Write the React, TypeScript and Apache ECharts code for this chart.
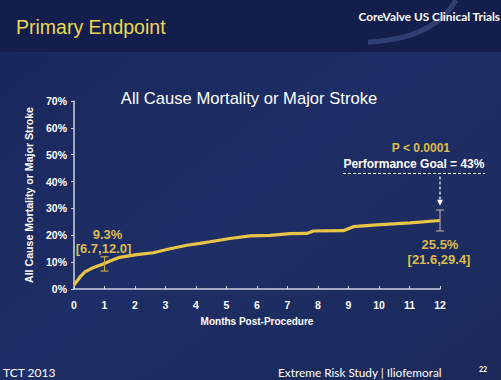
import React, { useEffect, useRef } from "react";
import * as echarts from "echarts";

// Kaplan-Meier estimate (months, %)
const months = [0, 0.1, 0.2, 0.36, 0.6, 0.96, 1.2, 1.5, 2.05, 2.6, 3.15, 3.7, 4.13, 4.46, 5.11, 5.77, 6.43, 7.08, 7.63, 7.85, 8.83, 9.16, 9.92, 11.02, 12];
const rates = [1.5, 3.0, 4.5, 6.4, 7.8, 9.3, 10.5, 11.8, 12.8, 13.5, 15.0, 16.3, 17.0, 17.6, 18.8, 19.8, 20.0, 20.6, 20.7, 21.6, 21.7, 23.2, 23.9, 24.6, 25.5];

// confidence intervals
const ciMonths = [1, 12];
const ciPoint = [9.3, 25.5];
const ciLow = [6.7, 21.6];
const ciHigh = [12.0, 29.4];
const ciLabels = ["9.3%", "25.5%"];
const ciRangeLabels = ["[6.7,12.0]", "[21.6,29.4]"];

// performance goal
const goalValue = 43;
const goalFrom = 8.82;
const goalTo = 13.47;
const goalArrowMonth = 12;
const goalArrowEnd = 31;
const goalLabel = "Performance Goal = 43%";
const pLabel = "P < 0.0001";

const xTicks = [0, 12, 1];
const yTicks = [0, 70, 10];

const GOLD = "#e8c547";
const GOLD_TEXT = "#ddbb4c";
const ARIAL = "'Liberation Sans', Arial, sans-serif";

export default function App() {
  const ref = useRef<HTMLDivElement>(null);
  useEffect(() => {
    if (!ref.current) return;
    const chart = echarts.init(ref.current, null, { renderer: "svg" });
    const lineData = months.map((m, i) => [m, rates[i]]);
    const ciData = ciMonths.map((m, i) => [m, ciLow[i], ciHigh[i], ciPoint[i]]);
    chart.setOption({
      animation: false,
      backgroundColor: {
        type: "linear", x: 0, y: 0, x2: 1, y2: 1,
        colorStops: [
          { offset: 0, color: "#18265b" },
          { offset: 0.5, color: "#1e2e66" },
          { offset: 1, color: "#1b2959" },
        ],
      },
      graphic: [
        { type: "rect", shape: { x: 0, y: 0, width: 501, height: 52 }, style: { fill: "#141e4c" }, z: -1 },
        { type: "bezierCurve", shape: { x1: 368, y1: 42, cpx1: 420, cpy1: 40, cpx2: 445, cpy2: 20, x2: 456, y2: 0 }, style: { stroke: "rgba(120,140,200,0.3)", lineWidth: 5, fill: "none" }, z: -1 },
        { type: "text", x: 16, y: 27, style: { text: "Primary Endpoint", fill: "#ecd850", font: "19.5px " + ARIAL, verticalAlign: "middle" } },
        { type: "text", x: 500, y: 16, style: { text: "CoreValve US Clinical Trials", fill: "#ffffff", font: "bold 11.8px Lato, sans-serif", align: "right", verticalAlign: "middle" } },
        { type: "text", x: 249, y: 98, style: { text: "All Cause Mortality or Major Stroke", fill: "#ffffff", font: "16.6px " + ARIAL, align: "center", verticalAlign: "middle" } },
        { type: "text", x: 3, y: 372, style: { text: "TCT 2013", fill: "#ffffff", font: "12px Lato, sans-serif", verticalAlign: "middle" } },
        { type: "text", x: 278, y: 372, style: { text: "Extreme Risk Study | Iliofemoral", fill: "#ffffff", font: "11.8px Lato, sans-serif", verticalAlign: "middle" } },
        { type: "text", x: 479, y: 369, style: { text: "22", fill: "#ffffff", font: "bold 7px Lato, sans-serif", verticalAlign: "middle" } },
      ],
      grid: { left: 74, right: 61, top: 101, bottom: 91 },
      xAxis: {
        type: "value", min: xTicks[0], max: xTicks[1], interval: xTicks[2],
        name: "Months Post-Procedure", nameLocation: "middle", nameGap: 27,
        nameTextStyle: { color: "#ffffff", fontWeight: "bold", fontSize: 10, fontFamily: ARIAL },
        axisLine: { lineStyle: { color: "#cdd2e0", width: 1.5 } },
        axisTick: { inside: true, length: 3, lineStyle: { color: "#cdd2e0" } },
        axisLabel: { color: "#ffffff", fontWeight: "bold", fontSize: 10.5, margin: 10, fontFamily: ARIAL },
        splitLine: { show: false },
      },
      yAxis: {
        type: "value", min: yTicks[0], max: yTicks[1], interval: yTicks[2],
        name: "All Cause Mortality or Major Stroke", nameLocation: "middle", nameGap: 40, nameRotate: 90,
        nameTextStyle: { color: "#ffffff", fontWeight: "bold", fontSize: 10.6, fontFamily: ARIAL },
        axisLine: { show: true, lineStyle: { color: "#cdd2e0", width: 1.5 } },
        axisTick: { show: true, length: 3, lineStyle: { color: "#cdd2e0" } },
        axisLabel: { color: "#ffffff", fontWeight: "bold", fontSize: 10.5, margin: 7, formatter: "{value}%", fontFamily: ARIAL },
        splitLine: { show: false },
      },
      series: [
        {
          type: "line", data: lineData, showSymbol: false, symbol: "none",
          lineStyle: { color: GOLD, width: 3.2 }, z: 3,
        },
        {
          type: "custom", data: ciData, z: 4, clip: false,
          renderItem: (params: any, api: any) => {
            const i = params.dataIndex;
            const x = api.value(0);
            const pLo = api.coord([x, api.value(1)]);
            const pHi = api.coord([x, api.value(2)]);
            const color = i === 0 ? "#c9a84a" : "#a9a9a9";
            const cap = 4;
            const font = "bold 13px " + ARIAL;
            const children: any[] = [
              { type: "line", shape: { x1: pLo[0], y1: pLo[1], x2: pHi[0], y2: pHi[1] }, style: { stroke: color, lineWidth: 1.2 } },
              { type: "line", shape: { x1: pLo[0] - cap, y1: pLo[1], x2: pLo[0] + cap, y2: pLo[1] }, style: { stroke: color, lineWidth: 1.2 } },
              { type: "line", shape: { x1: pHi[0] - cap, y1: pHi[1], x2: pHi[0] + cap, y2: pHi[1] }, style: { stroke: color, lineWidth: 1.2 } },
            ];
            if (i === 0) {
              children.push({ type: "text", x: pHi[0] + 3, y: pHi[1] - 22, style: { text: ciLabels[i], fill: GOLD_TEXT, font, align: "center", verticalAlign: "middle" } });
              children.push({ type: "text", x: pHi[0] - 1, y: pHi[1] - 8, style: { text: ciRangeLabels[i], fill: GOLD_TEXT, font, align: "center", verticalAlign: "middle" } });
            } else {
              children.push({ type: "text", x: pLo[0], y: pLo[1] + 14, style: { text: ciLabels[i], fill: GOLD_TEXT, font, align: "center", verticalAlign: "middle" } });
              children.push({ type: "text", x: pLo[0] - 1, y: pLo[1] + 29, style: { text: ciRangeLabels[i], fill: GOLD_TEXT, font, align: "center", verticalAlign: "middle" } });
            }
            return { type: "group", children };
          },
        },
        {
          type: "custom", data: [[goalFrom, goalValue, goalTo]], z: 4, clip: false,
          renderItem: (params: any, api: any) => {
            const a = api.coord([api.value(0), api.value(1)]);
            const b = api.coord([api.value(2), api.value(1)]);
            const top = api.coord([goalArrowMonth, api.value(1)]);
            const end = api.coord([goalArrowMonth, goalArrowEnd]);
            const mid = (a[0] + b[0]) / 2;
            return {
              type: "group",
              children: [
                { type: "line", shape: { x1: a[0], y1: a[1], x2: b[0], y2: b[1] }, style: { stroke: "#ffffff", lineWidth: 1.2, lineDash: [3, 2] } },
                { type: "line", shape: { x1: top[0], y1: top[1] + 3, x2: end[0], y2: end[1] - 5 }, style: { stroke: "#ffffff", lineWidth: 1.2, lineDash: [3, 2] } },
                { type: "polygon", shape: { points: [[end[0] - 3, end[1] - 6], [end[0] + 3, end[1] - 6], [end[0], end[1]]] }, style: { fill: "#ffffff" } },
                { type: "text", x: mid, y: a[1] - 10, style: { text: goalLabel, fill: "#ffffff", font: "bold 12px " + ARIAL, align: "center", verticalAlign: "middle" } },
                { type: "text", x: mid + 7, y: a[1] - 26, style: { text: pLabel, fill: GOLD_TEXT, font: "bold 12px " + ARIAL, align: "center", verticalAlign: "middle" } },
              ],
            };
          },
        },
      ],
    });
    return () => chart.dispose();
  }, []);
  return <div ref={ref} style={{ position: "fixed", left: 0, top: 0, width: 501, height: 380 }} />;
}
